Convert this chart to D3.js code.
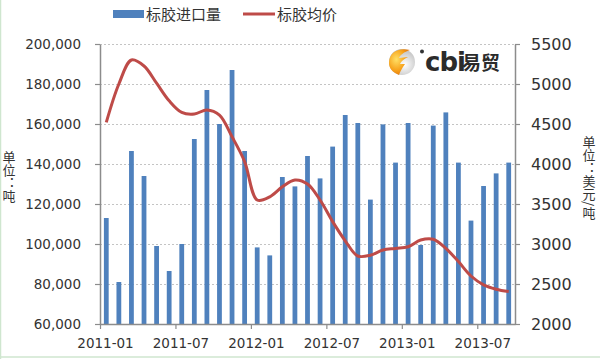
<!DOCTYPE html>
<html>
<head>
<meta charset="utf-8">
<script src="https://cdn.jsdelivr.net/npm/d3@7"></script>
<style>
  body { margin: 0; background: #fff; }
  svg { display: block; }
</style>
</head>
<body>
<svg id="chart" width="600" height="359"></svg>
<script>
// months on the category axis
var months = ["2011-01","2011-02","2011-03","2011-04","2011-05","2011-06","2011-07","2011-08","2011-09","2011-10","2011-11","2011-12",
              "2012-01","2012-02","2012-03","2012-04","2012-05","2012-06","2012-07","2012-08","2012-09","2012-10","2012-11","2012-12",
              "2013-01","2013-02","2013-03","2013-04","2013-05","2013-06","2013-07","2013-08","2013-09"];

// 标胶进口量 (吨)
var importVol = [113000, 81000, 146500, 134000, 99000, 86500, 100000, 152500, 177000, 160000, 187000, 146500,
                 98300, 94300, 133500, 128800, 144000, 132800, 148700, 164500, 160500, 122200, 159800, 140700,
                 160500, 99500, 159200, 165800, 140700, 111700, 129000, 135300, 140700];

// 标胶均价 (美元/吨)
var avgPrice = [4520, 5000, 5300, 5225, 5010, 4790, 4645, 4625, 4675, 4610, 4340, 4030,
                3550, 3590, 3715, 3800, 3750, 3550, 3280, 3040, 2850, 2860, 2925, 2945,
                2965, 3050, 3060, 2945, 2780, 2600, 2490, 2435, 2405];

var leftTicks = [60000, 80000, 100000, 120000, 140000, 160000, 180000, 200000];
var rightTicks = [2000, 2500, 3000, 3500, 4000, 4500, 5000, 5500];
var xTickIdx = [0, 6, 12, 18, 24, 30];

var seriesNames = ["标胶进口量", "标胶均价"];
var leftTitle = "单位：吨";
var rightTitle = "单位：美元/吨";

var W = 600, H = 359;
var plotL = 100, plotR = 515, plotT = 44, plotB = 324;
var blue = "#4f81bd", red = "#be4b48", axisCol = "#8c8c8c", txt = "#333";

var svg = d3.select("#chart");

// light green frame on left and bottom
svg.append("line").attr("x1", 0.5).attr("x2", 0.5).attr("y1", 0).attr("y2", H)
   .style("stroke", "#cfe6cf").style("stroke-width", 1.5);
svg.append("line").attr("x1", 0).attr("x2", W).attr("y1", 357).attr("y2", 357)
   .style("stroke", "#cfe6cf").style("stroke-width", 1.5);

var x = d3.scaleBand().domain(months).range([plotL, plotR]).paddingInner(0.62).paddingOuter(0.31);
var xPos = d3.scaleLinear().domain([0, months.length]).range([plotL, plotR]);
var yL = d3.scaleLinear().domain([60000, 200000]).range([plotB, plotT]);
var yR = d3.scaleLinear().domain([2000, 5500]).range([plotB, plotT]);

// gridlines
svg.append("g").selectAll("line")
    .data(leftTicks.slice(1))
  .enter().append("line")
    .attr("x1", plotL).attr("x2", plotR)
    .attr("y1", function (d) { return Math.round(yL(d)) + 0.5; })
    .attr("y2", function (d) { return Math.round(yL(d)) + 0.5; })
    .style("stroke", "#c4c4c4").style("stroke-dasharray", "2,2");

// bars
svg.append("g").selectAll("rect")
    .data(importVol)
  .enter().append("rect")
    .attr("x", function (d, i) { return x(months[i]); })
    .attr("width", x.bandwidth())
    .attr("y", function (d) { return yL(d); })
    .attr("height", function (d) { return plotB - yL(d); })
    .style("fill", blue);

// price line
var line = d3.line()
    .x(function (d, i) { return x(months[i]) + x.bandwidth() / 2; })
    .y(function (d) { return yR(d); })
    .curve(d3.curveCatmullRom.alpha(0.5));

svg.append("path").datum(avgPrice)
    .attr("d", line)
    .style("fill", "none").style("stroke", red).style("stroke-width", 3)
    .style("stroke-linejoin", "round");

// axes
var axL = svg.append("g").attr("transform", "translate(" + plotL + ",0)")
    .call(d3.axisLeft(yL).tickValues(leftTicks).tickFormat(d3.format(",")).tickSizeInner(5).tickSizeOuter(0).tickPadding(14));
var axR = svg.append("g").attr("transform", "translate(" + plotR + ",0)")
    .call(d3.axisRight(yR).tickValues(rightTicks).tickFormat(d3.format("d")).tickSizeInner(5).tickSizeOuter(0).tickPadding(11));
var axB = svg.append("g").attr("transform", "translate(0," + plotB + ")")
    .call(d3.axisBottom(xPos).tickValues(xTickIdx).tickFormat(function (i) { return months[i]; })
          .tickSizeInner(5).tickSizeOuter(0).tickPadding(9));

[axL, axR, axB].forEach(function (g) {
    g.select(".domain").style("stroke", axisCol).style("stroke-width", 1.5);
    g.selectAll(".tick line").style("stroke", axisCol).style("stroke-width", 1.2);
    g.selectAll("text").style("fill", txt).style("font-family", "DejaVu Sans");
});
axL.selectAll("text").style("font-size", "13.5px");
axR.selectAll("text").style("font-size", "16px");
axB.selectAll("text").style("font-size", "13.5px").attr("dx", 5);

// axis titles, written top to bottom
svg.append("text")
    .attr("x", 9).attr("y", 151)
    .style("writing-mode", "vertical-rl")
    .style("font-family", "Noto Sans CJK SC").style("font-size", "13px").style("fill", txt)
    .text(leftTitle);

svg.append("text")
    .attr("x", 589).attr("y", 136)
    .style("writing-mode", "vertical-rl")
    .style("font-family", "Noto Sans CJK SC").style("font-size", "13px").style("fill", txt)
    .text(rightTitle);

// legend
var lg = svg.append("g");
lg.append("rect").attr("x", 113).attr("y", 10).attr("width", 31).attr("height", 8).style("fill", blue);
lg.append("text").attr("x", 146).attr("y", 19.5).text(seriesNames[0]);
lg.append("line").attr("x1", 243).attr("x2", 275).attr("y1", 14).attr("y2", 14)
  .style("stroke", red).style("stroke-width", 3);
lg.append("text").attr("x", 277).attr("y", 19.5).text(seriesNames[1]);
lg.selectAll("text").style("font-family", "Noto Sans CJK SC").style("font-size", "15px").style("fill", txt);

// cbi logo
var defs = svg.append("defs");
var grad = defs.append("radialGradient").attr("id", "orb").attr("cx", "35%").attr("cy", "40%").attr("r", "70%");
grad.append("stop").attr("offset", "0%").style("stop-color", "#ffe066");
grad.append("stop").attr("offset", "60%").style("stop-color", "#f7a21b");
grad.append("stop").attr("offset", "100%").style("stop-color", "#e0700a");
var gray = defs.append("radialGradient").attr("id", "orb2").attr("cx", "60%").attr("cy", "60%").attr("r", "60%");
gray.append("stop").attr("offset", "0%").style("stop-color", "#ffffff");
gray.append("stop").attr("offset", "100%").style("stop-color", "#bdbdbd");

var logo = svg.append("g");
logo.append("circle").attr("cx", 402).attr("cy", 62).attr("r", 13).style("fill", "url(#orb2)");
logo.append("path")
    .attr("d", "M389,63 C389,52 399,47 410,50 C404,52 400,55 399,58 L408,57 C404,59 401,61 400,64 L405,64 C402,68 400,72 399,75 C392,72 389,68 389,63 Z")
    .style("fill", "url(#orb)");
logo.append("circle").attr("cx", 422).attr("cy", 51.5).attr("r", 2).style("fill", "#333");
logo.append("text").attr("x", 425).attr("y", 71).text("cbi")
    .style("font-family", "DejaVu Sans").style("font-weight", "bold").style("font-size", "26px")
    .style("fill", "#2b2b2b").style("letter-spacing", "-1px");
logo.append("text").attr("x", 462).attr("y", 70).text("易贸")
    .style("font-family", "Noto Sans CJK SC").style("font-weight", "bold").style("font-size", "19px")
    .style("fill", "#2b2b2b");
</script>
</body>
</html>
